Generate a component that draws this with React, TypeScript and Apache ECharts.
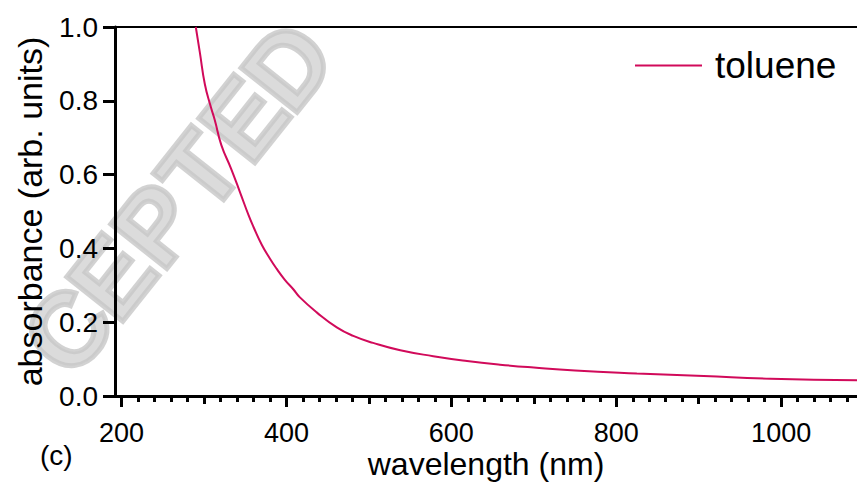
import React, { useEffect, useRef } from "react";
import * as echarts from "echarts";

const wavelength = [290, 295, 301, 308, 313, 321, 333, 344, 354, 360, 370, 380, 388, 398, 408, 416, 437, 461, 481, 505, 538, 578, 619, 659, 700, 750, 825, 906, 987, 1092];
const absorbance = [1.0, 0.93, 0.845, 0.785, 0.748, 0.68, 0.615, 0.55, 0.49, 0.458, 0.41, 0.372, 0.345, 0.315, 0.29, 0.268, 0.226, 0.186, 0.163, 0.144, 0.124, 0.108, 0.095, 0.085, 0.077, 0.069, 0.061, 0.054, 0.047, 0.043];
const majorTicks = [200, 400, 600, 800, 1000];
const midTicks = [300, 500, 700, 900];
const minorTicks: number[] = [];
for (let v = 200; v <= 1080; v += 20) minorTicks.push(v);
const seriesName = "toluene";
const xName = "wavelength (nm)";
const yName = "absorbance (arb. units)";
const panelLabel = "(c)";
const watermarkLetters = ["C", "E", "P", "T", "E", "D"];

const FONT = "'Liberation Sans', Arial, Helvetica, sans-serif";
const LINE_COLOR = "#d10a5a";

export default function App() {
  const ref = useRef<HTMLDivElement>(null);
  useEffect(() => {
    document.body.style.margin = "0";
    const chart = echarts.init(ref.current!, null, { renderer: "svg" });
    const xMin = 192;
    const xMax = 1092;
    const baseX = {
      type: "value" as const,
      min: xMin,
      max: xMax,
      splitLine: { show: false },
    };
    // decorative watermark letters along a rotated baseline
    const wmStart: [number, number] = [68, 330];
    const wmEnd: [number, number] = [288, 66];
    const n = watermarkLetters.length;
    const watermark = watermarkLetters.map((ch, i) => ({
      type: "text",
      x: wmStart[0] + ((wmEnd[0] - wmStart[0]) * i) / (n - 1),
      y: wmStart[1] + ((wmEnd[1] - wmStart[1]) * i) / (n - 1),
      rotation: 0.9,
      z: -10,
      silent: true,
      style: {
        text: ch,
        fontSize: 104,
        fontWeight: "bold",
        fontFamily: FONT,
        fill: "rgba(200,200,200,0.65)",
        stroke: "rgba(165,165,165,0.5)",
        lineWidth: 5,
        textAlign: "center",
        textVerticalAlign: "middle",
      },
    }));
    chart.setOption({
      animation: false,
      backgroundColor: "#ffffff",
      textStyle: { fontFamily: FONT },
      grid: { left: 115, right: 0, top: 27, bottom: 87, containLabel: false, outerBoundsMode: "none" },
      legend: {
        data: [{ name: seriesName, icon: "rect" }],
        left: 630,
        top: 42,
        itemWidth: 67,
        itemHeight: 2,
        textStyle: { fontSize: 37, color: "#000", fontFamily: FONT, padding: [0, 0, 0, 8] },
      },
      xAxis: [
        {
          ...baseX,
          position: "bottom",
          name: xName,
          nameLocation: "middle",
          nameGap: 54,
          nameMoveOverlap: false,
          nameTextStyle: { fontSize: 32, lineHeight: 28, color: "#000", fontFamily: FONT },
          axisLine: { show: true, onZero: false, lineStyle: { color: "#000", width: 3 } },
          axisTick: { show: true, customValues: majorTicks, length: 11, lineStyle: { color: "#000", width: 3 } },
          axisLabel: {
            customValues: majorTicks,
            fontSize: 27,
            lineHeight: 24,
            color: "#000",
            margin: 25,
            fontFamily: FONT,
            formatter: (v: number) => String(v),
          },
        },
        {
          ...baseX,
          position: "bottom",
          axisLine: { show: false, onZero: false },
          axisTick: { show: true, customValues: midTicks, length: 8, lineStyle: { color: "#000", width: 3 } },
          axisLabel: { show: false },
        },
        {
          ...baseX,
          position: "bottom",
          axisLine: { show: false, onZero: false },
          axisTick: { show: true, customValues: minorTicks, length: 6, lineStyle: { color: "#000", width: 3 } },
          axisLabel: { show: false },
        },
        {
          ...baseX,
          position: "top",
          axisLine: { show: true, onZero: false, lineStyle: { color: "#000", width: 2 } },
          axisTick: { show: false },
          axisLabel: { show: false },
        },
      ],
      yAxis: {
        type: "value",
        min: 0,
        max: 1,
        interval: 0.2,
        splitLine: { show: false },
        name: yName,
        nameLocation: "middle",
        nameGap: 68,
        nameMoveOverlap: false,
        nameTextStyle: { fontSize: 34, color: "#000", fontFamily: FONT },
        axisLine: { show: true, onZero: false, lineStyle: { color: "#000", width: 3 } },
        axisTick: { show: true, length: 12, lineStyle: { color: "#000", width: 3 } },
        axisLabel: {
          fontSize: 28,
          color: "#000",
          margin: 17,
          fontFamily: FONT,
          formatter: (v: number) => v.toFixed(1),
        },
      },
      graphic: [
        ...watermark,
        {
          type: "text",
          x: 40,
          y: 455,
          style: {
            text: panelLabel,
            fontSize: 28,
            fontFamily: FONT,
            fill: "#000",
            textVerticalAlign: "middle",
          },
        },
      ],
      series: [
        {
          name: seriesName,
          type: "line",
          xAxisIndex: 0,
          data: wavelength.map((w, i) => [w, absorbance[i]]),
          showSymbol: false,
          symbol: "none",
          smooth: 0.5,
          clip: true,
          lineStyle: { color: LINE_COLOR, width: 2 },
          itemStyle: { color: LINE_COLOR },
          z: 5,
        },
      ],
    });
    return () => chart.dispose();
  }, []);
  return <div ref={ref} style={{ position: "absolute", left: 0, top: 0, width: 857, height: 483 }} />;
}
